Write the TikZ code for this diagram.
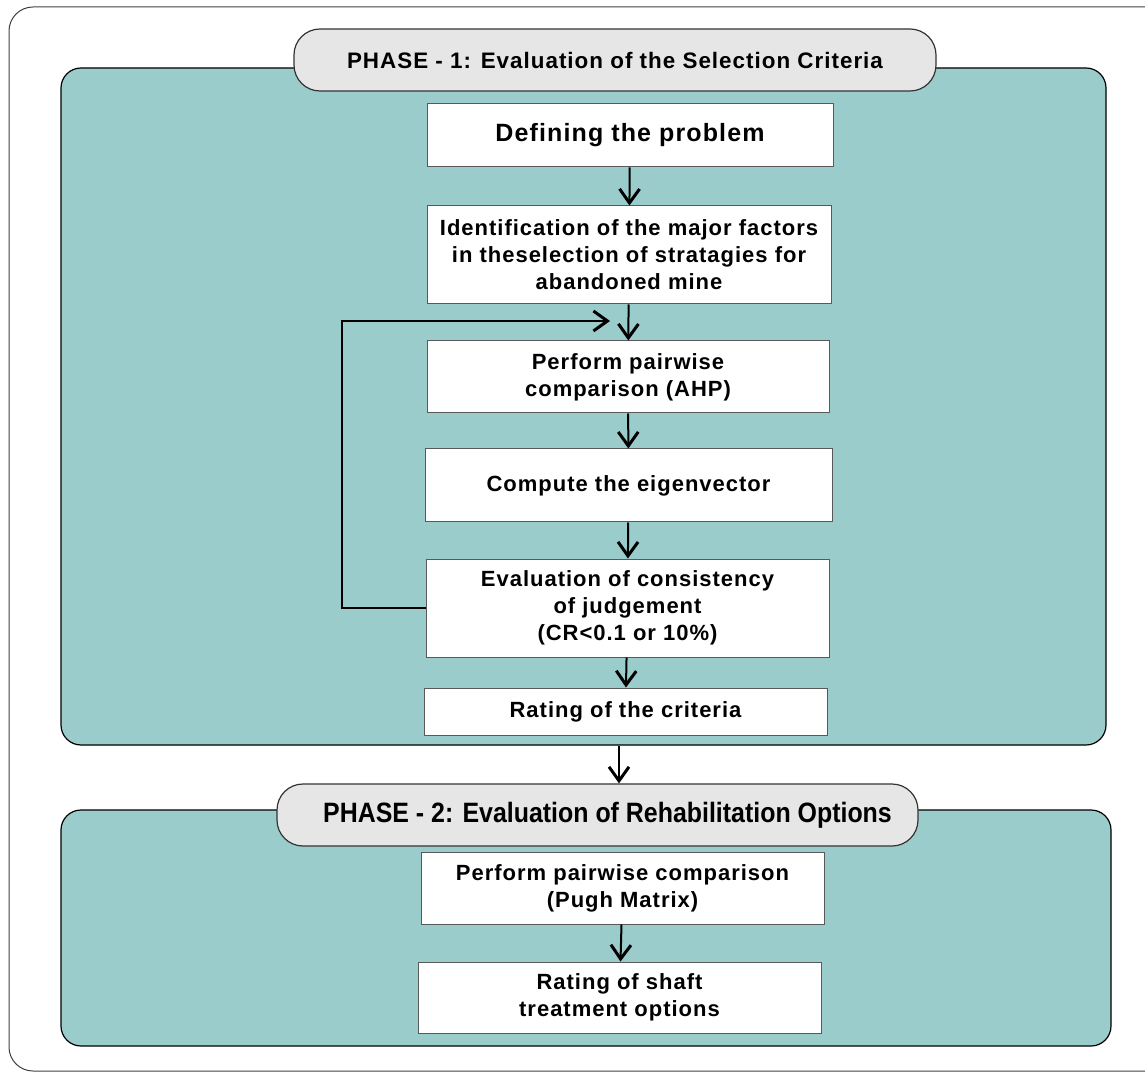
\documentclass[tikz,border=0pt]{standalone}
\usepackage{fontspec}
\setmainfont{Liberation Sans}
\newfontfamily\boxfont[LetterSpace=4.5]{Liberation Sans}
\newfontfamily\narrowfont[FakeStretch=0.89]{Liberation Sans}
\usetikzlibrary{arrows.meta}
\definecolor{panelteal}{RGB}{154,204,204}
\definecolor{headgray}{RGB}{230,230,230}

\begin{document}
\begin{tikzpicture}[x=0.5pt, y=-0.5pt,
    panel/.style={draw=black, fill=panelteal, rounded corners=10pt, line width=0.6pt, inner sep=0pt},
    phasehead/.style={draw=black!80, fill=headgray, rounded corners=13pt, line width=0.6pt, inner sep=0pt},
    stepbox/.style={draw=black!65, fill=white, line width=0.5pt, inner sep=0pt, align=center,
        font=\boxfont\bfseries\fontsize{11}{13.5}\selectfont},
    arr/.style={line width=1pt, -{Straight Barb[length=7pt,width=10pt,line width=1.5pt]}}]
    \useasboundingbox (0,0) rectangle (1145,1074);
    \clip (0,0) rectangle (1145,1074);

    % Outer frame
    \draw[black!75, line width=0.5pt, rounded corners=12pt] (9,7) rectangle (1170,1071);

    % Phase 1
    \node[panel, minimum width=522.5pt, minimum height=338.5pt] (panel1) at (583.5,406.5) {};
    \node[phasehead, minimum width=321pt, minimum height=31pt,
        font=\boxfont\bfseries\fontsize{11.2}{13}\selectfont] (head1) at (615,60)
        {PHASE - 1: Evaluation of the Selection Criteria};
    \node[stepbox, minimum width=203pt, minimum height=31.5pt,
        font=\boxfont\bfseries\fontsize{12.5}{15}\selectfont] (define) at (630,135.5) {Defining the problem};
    \node[stepbox, minimum width=202pt, minimum height=49pt] (ident) at (629,255)
        {Identification of the major factors\\in theselection of stratagies for\\abandoned mine};
    \node[stepbox, minimum width=201pt, minimum height=36pt] (pair) at (628,377)
        {Perform pairwise\\comparison (AHP)};
    \node[stepbox, minimum width=203.5pt, minimum height=36.5pt] (eigen) at (628.5,485.5)
        {Compute the eigenvector};
    \node[stepbox, minimum width=201.5pt, minimum height=49pt] (consist) at (627.5,608)
        {Evaluation of consistency\\of judgement\\(CR<0.1 or 10\%)};
    \node[stepbox, minimum width=201.5pt, minimum height=23.5pt] (rate) at (625.5,711.5)
        {Rating of the criteria};

    \draw[arr] (define) -- (ident);
    \draw[arr] (ident) -- (pair);
    \draw[arr] (pair) -- (eigen);
    \draw[arr] (eigen) -- (consist);
    \draw[arr] (consist) -- (rate);

    % feedback loop
    \coordinate (loopin) at (610,321);
    \draw[arr] (consist.west) -- ++(-84,0) |- (loopin);

    % Phase 2
    \node[panel, minimum width=525pt, minimum height=118pt] (panel2) at (586,928) {};
    \node[phasehead, minimum width=320.5pt, minimum height=31pt,
        font=\narrowfont\bfseries\fontsize{14}{16}\selectfont] (head2) at (597.5,815)
        {\hspace{10pt}PHASE - 2: Evaluation of Rehabilitation Options};
    \node[stepbox, minimum width=201.5pt, minimum height=36pt] (pugh) at (622.5,888)
        {Perform pairwise comparison\\(Pugh Matrix)};
    \node[stepbox, minimum width=201.5pt, minimum height=35.5pt] (shaft) at (619.5,997.5)
        {Rating of shaft\\treatment options};

    \coordinate (mid) at (619,0);
    \draw[arr] (panel1.south -| mid) -- (head2.north -| mid);
    \draw[arr] (pugh) -- (shaft);
\end{tikzpicture}
\end{document}
